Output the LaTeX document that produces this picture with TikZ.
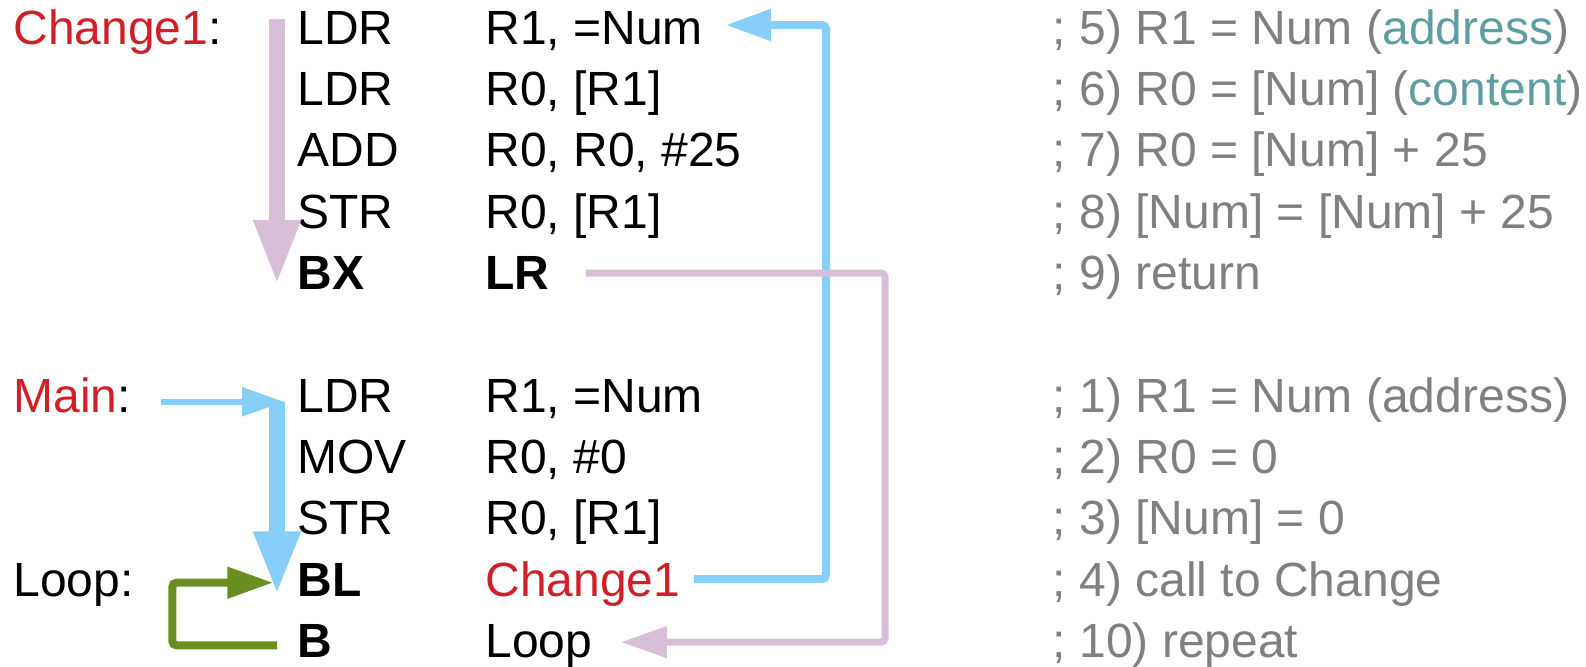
\documentclass[tikz,border=0pt]{standalone}
\usepackage{fontspec}
\setmainfont{Liberation Sans}
\usetikzlibrary{arrows.meta}

\definecolor{lblred}{RGB}{206,32,41}
\definecolor{cmtgray}{RGB}{128,128,128}
\definecolor{cmtteal}{RGB}{95,158,160}
\definecolor{flowpink}{RGB}{216,191,216}
\definecolor{flowblue}{RGB}{135,206,250}
\definecolor{loopgreen}{RGB}{107,142,35}

\tikzset{
  asm/.style={anchor=base west, inner sep=0pt, font=\fontsize{24pt}{29pt}\selectfont},
  cmt/.style={asm, text=cmtgray},
  seqpink/.style={draw=flowpink, line width=7.8pt, -{Triangle[length=32.5pt,width=21.5pt]}},
  seqblue/.style={draw=flowblue, line width=8pt, -{Triangle[length=32pt,width=21.5pt]}},
  entry/.style={draw=flowblue, line width=3pt, -{Triangle[length=21pt,width=14pt]}},
  callline/.style={draw=flowblue, line width=4pt, rounded corners=2pt, -{Triangle[length=22.5pt,width=15pt]}},
  retline/.style={draw=flowpink, line width=3.5pt, rounded corners=2pt, -{Triangle[length=23pt,width=15pt]}},
  loopline/.style={draw=loopgreen, line width=4pt, rounded corners=2pt, -{Triangle[length=23pt,width=15pt]}}
}

\begin{document}
\begin{tikzpicture}[x=0.5pt,y=-0.5pt]
\useasboundingbox (0,0) rectangle (1586,666);

% labels
\node[asm] (lChange) at (13,44.3) {\textcolor{lblred}{Change1}:};
\node[asm] (lMain) at (13,412.1) {\textcolor{lblred}{Main}:};
\node[asm] (lLoop) at (13,596) {Loop:};

% subroutine Change1
\node[asm] (op5) at (297,44.3) {LDR};
\node[asm] (op6) at (297,105.6) {LDR};
\node[asm] (op7) at (297,166.9) {ADD};
\node[asm] (op8) at (297,228.2) {STR};
\node[asm] (op9) at (297,289.5) {\bfseries BX};
\node[asm] (arg5) at (485,44.3) {R1, =Num};
\node[asm] (arg6) at (485,105.6) {R0, [R1]};
\node[asm] (arg7) at (485,166.9) {R0, R0, \#25};
\node[asm] (arg8) at (485,228.2) {R0, [R1]};
\node[asm] (arg9) at (485,289.5) {\bfseries LR};
\node[cmt] (cm5) at (1052.5,44.3) {; 5) R1 = Num (\textcolor{cmtteal}{address})};
\node[cmt] (cm6) at (1052.5,105.6) {; 6) R0 = [Num] (\textcolor{cmtteal}{content})};
\node[cmt] (cm7) at (1052.5,166.9) {; 7) R0 = [Num] + 25};
\node[cmt] (cm8) at (1052.5,228.2) {; 8) [Num] = [Num] + 25};
\node[cmt] (cm9) at (1052.5,289.5) {; 9) return};

% main program
\node[asm] (op1) at (297,412.1) {LDR};
\node[asm] (op2) at (297,473.4) {MOV};
\node[asm] (op3) at (297,534.7) {STR};
\node[asm] (op4) at (297,596) {\bfseries BL};
\node[asm] (op10) at (297,657.3) {\bfseries B};
\node[asm] (arg1) at (485,412.1) {R1, =Num};
\node[asm] (arg2) at (485,473.4) {R0, \#0};
\node[asm] (arg3) at (485,534.7) {R0, [R1]};
\node[asm] (arg4) at (485,596) {\textcolor{lblred}{Change1}};
\node[asm] (arg10) at (485,657.3) {Loop};
\node[cmt] (cm1) at (1052.5,412.1) {; 1) R1 = Num (address)};
\node[cmt] (cm2) at (1052.5,473.4) {; 2) R0 = 0};
\node[cmt] (cm3) at (1052.5,534.7) {; 3) [Num] = 0};
\node[cmt] (cm4) at (1052.5,596) {; 4) call to Change};
\node[cmt] (cm10) at (1052.5,657.3) {; 10) repeat};

% flow arrows
\draw[seqpink] ([xshift=-10pt,yshift=12.5pt]op5.base west) -- ([xshift=-10pt,yshift=2.2pt]op9.base west);
\draw[entry] ([xshift=15.15pt,yshift=5.15pt]lMain.base east) -- ([xshift=-6.5pt,yshift=5.15pt]op1.base west);
\draw[seqblue] ([xshift=-10pt,yshift=5.15pt]op1.base west) -- ([xshift=-10pt,yshift=0.35pt]op4.base west);
\draw[loopline] ([xshift=-10pt,yshift=6pt]op10.base west) -- ++(-104.6,0) |- ([xshift=-11.85pt,yshift=6.65pt]op4.base west);

% call and return
\coordinate (callTip) at ([xshift=11.3pt,yshift=9.65pt]arg5.base east);
\coordinate (callBus) at (826,0);
\draw[callline] ([xshift=6.6pt,yshift=8.5pt]arg4.base east) -| (callBus |- callTip) -- (callTip);
\coordinate (retTip) at ([xshift=14.1pt,yshift=7.6pt]arg10.base east);
\coordinate (retBus) at (885,0);
\draw[retline] ([xshift=18pt,yshift=8.25pt]arg9.base east) -| (retBus |- retTip) -- (retTip);
\end{tikzpicture}
\end{document}
